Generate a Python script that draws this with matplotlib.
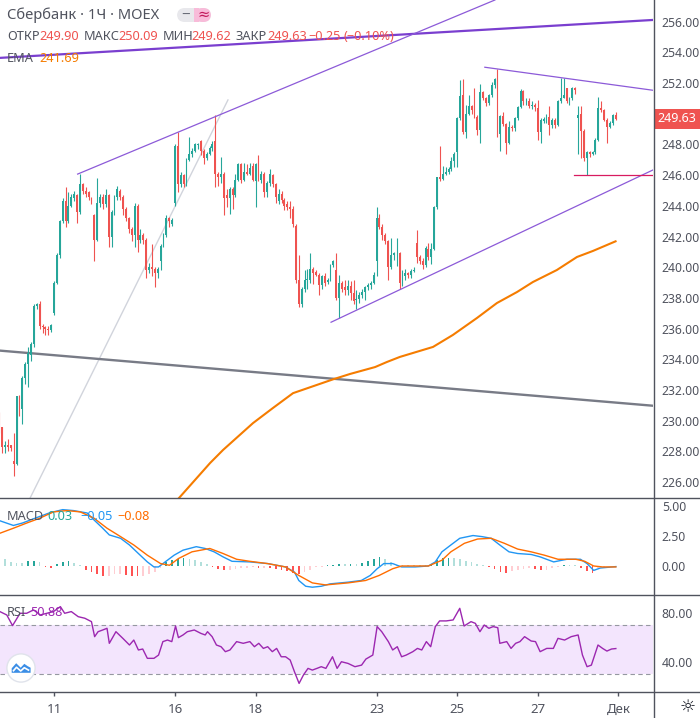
import numpy as np
import matplotlib
matplotlib.use("Agg")
import matplotlib.pyplot as plt
from matplotlib.patches import Rectangle, FancyBboxPatch, Circle, Polygon
from matplotlib.lines import Line2D

plt.rcParams['font.family'] = ['Noto Sans', 'DejaVu Sans']

W, H = 700, 718

# hourly candles: tail of Nov 9, then Nov 10 .. Nov 30 (14 per day)
opens = [230.4, 229.6, 228.3, 228.4, 228.4,
         227.4, 227.2, 231.6, 230.8, 232.8, 233.7, 234.3, 235.0, 237.5, 237.6, 236.2, 236.1, 236.0, 235.9,
         237.0, 239.0, 240.8, 243.0, 244.3, 243.0, 244.0, 244.5, 244.7, 243.6, 245.4, 245.0, 244.9, 244.5,
         243.4, 241.8, 244.2, 244.6, 244.1, 244.7, 242.0, 243.6, 244.6, 245.0, 244.6, 243.8, 243.2, 242.5,
         242.1, 244.0, 241.8, 242.1, 241.8, 239.8, 240.0, 239.9, 239.6, 240.4, 241.4, 242.1, 243.2, 242.8,
         244.2, 247.9, 245.4, 246.0, 245.4, 247.0, 247.35, 247.6, 247.95, 248.2, 247.6, 247.1, 247.4, 247.75,
         248.2, 246.1, 245.9, 246.1, 244.7, 244.5, 245.1, 244.7, 245.7, 246.7, 245.7, 246.2, 246.1, 246.6,
         245.6, 246.7, 245.7, 246.1, 244.9, 245.5, 246.0, 245.4, 244.3, 244.8, 244.4, 244.1, 243.9, 243.8,
         242.7, 239.2, 237.6, 238.6, 239.2, 239.2, 239.9, 239.7, 239.5, 238.85, 239.45, 239.05, 239.2, 240.15,
         239.85, 238.0, 239.0, 238.7, 238.5, 238.8, 238.3, 237.85, 237.95, 238.2, 238.4, 238.7, 238.85, 239.0,
         240.4, 243.2, 242.6, 242.1, 241.7, 240.0, 240.8, 240.9, 240.9, 238.95, 239.4, 239.6, 239.5, 239.75,
         241.55, 240.7, 240.4, 240.15, 241.2, 240.7, 241.2, 243.95, 245.9, 245.75, 246.1, 246.2, 246.4, 246.9,
         247.5, 249.7, 251.2, 248.8, 250.0, 250.5, 250.3, 249.8, 248.95, 251.4, 251.0, 250.7, 251.2, 251.85,
         252.1, 248.7, 249.85, 249.35, 248.1, 249.15, 249.05, 249.7, 250.45, 251.5, 250.8, 250.85, 250.5, 250.6,
         250.35, 248.8, 249.55, 249.6, 249.8, 249.27, 249.6, 249.27, 250.8, 251.05, 251.65, 250.8, 251.0, 251.7,
         249.75, 250.0, 248.9, 247.1, 247.5, 247.4, 247.5, 248.3, 250.35, 250.24, 249.6, 249.16, 249.4, 249.9]
highs = [230.6, 229.6, 228.7, 228.8, 228.4,
         229.2, 231.6, 231.7, 232.9, 233.8, 234.8, 235.1, 237.6, 237.7, 237.8, 236.3, 236.2, 236.2, 236.3,
         239.1, 240.9, 243.1, 244.5, 245.2, 244.9, 244.8, 245.0, 244.8, 246.1, 245.5, 245.2, 245.0, 244.6,
         243.5, 245.8, 244.8, 244.8, 245.1, 244.8, 243.7, 244.7, 245.3, 245.1, 244.7, 243.9, 243.3, 242.6,
         244.2, 244.1, 242.5, 242.2, 241.9, 240.3, 241.5, 240.0, 240.0, 241.5, 242.2, 243.4, 243.3, 243.2,
         248.0, 248.8, 246.2, 246.1, 247.1, 248.5, 247.8, 248.1, 248.1, 248.3, 247.7, 247.5, 247.9, 248.2,
         249.95, 246.2, 247.2, 246.2, 245.1, 245.2, 245.2, 246.1, 246.8, 246.8, 246.8, 246.7, 246.8, 246.8,
         246.8, 247.3, 246.3, 246.2, 245.6, 246.4, 246.1, 245.5, 245.1, 245.0, 244.5, 244.3, 244.3, 244.0,
         242.8, 240.8, 238.7, 239.8, 239.9, 240.9, 240.0, 239.8, 239.6, 239.5, 239.6, 239.3, 240.2, 240.5,
         240.9, 239.5, 239.1, 239.2, 239.2, 239.1, 239.2, 238.5, 238.4, 238.6, 238.8, 239.0, 239.1, 239.7,
         243.95, 243.5, 242.8, 242.2, 241.8, 241.9, 241.0, 241.9, 241.0, 239.8, 239.9, 239.7, 239.9, 240.0,
         242.45, 240.8, 240.6, 241.4, 241.6, 241.6, 244.0, 245.9, 247.9, 246.6, 246.5, 246.5, 247.2, 247.5,
         249.8, 252.2, 252.26, 250.6, 251.2, 250.6, 251.66, 249.9, 251.94, 251.5, 251.1, 251.3, 252.1, 252.3,
         252.9, 249.9, 250.1, 249.4, 249.5, 249.3, 249.8, 250.5, 251.6, 251.55, 251.0, 251.0, 250.8, 250.7,
         250.9, 249.7, 249.8, 250.0, 250.5, 249.7, 249.7, 250.9, 252.3, 252.3, 251.7, 251.1, 251.75, 251.75,
         250.5, 250.5, 249.0, 247.6, 247.6, 247.6, 248.4, 251.1, 250.8, 250.3, 249.7, 249.5, 250.0, 250.09]
lows = [229.2, 227.9, 227.9, 228.0, 228.0,
        226.4, 227.1, 230.3, 229.8, 232.4, 232.2, 233.9, 234.8, 237.3, 236.0, 235.7, 235.6, 235.6, 235.8,
        236.9, 238.9, 240.6, 242.9, 242.6, 242.9, 243.9, 244.3, 242.9, 243.5, 244.8, 244.6, 244.4, 244.1,
        240.4, 241.7, 243.9, 243.8, 243.9, 241.3, 241.3, 243.4, 244.4, 244.4, 243.4, 243.0, 242.2, 241.7,
        241.3, 241.0, 241.6, 241.5, 239.3, 239.6, 239.4, 238.7, 239.3, 239.8, 241.3, 242.0, 242.6, 242.7,
        244.0, 244.9, 245.2, 245.2, 245.3, 246.9, 247.2, 247.5, 247.7, 247.3, 246.7, 247.0, 247.3, 247.6,
        245.2, 245.3, 245.5, 243.4, 243.9, 243.5, 243.8, 244.6, 245.6, 245.5, 245.6, 246.0, 246.0, 245.6,
        243.9, 245.6, 245.5, 244.6, 244.6, 245.3, 245.2, 244.2, 244.1, 244.2, 243.7, 243.7, 243.2, 242.6,
        239.0, 237.4, 237.4, 238.4, 238.6, 239.0, 238.9, 239.4, 238.2, 238.6, 238.8, 238.9, 239.1, 240.0,
        237.9, 236.7, 238.4, 238.2, 238.2, 237.9, 237.6, 237.3, 237.7, 238.0, 237.9, 238.5, 238.6, 238.9,
        239.4, 242.5, 241.8, 241.5, 239.2, 239.9, 240.5, 240.1, 238.6, 238.8, 239.2, 239.3, 239.3, 239.7,
        240.3, 240.2, 239.9, 240.0, 240.5, 240.2, 241.1, 243.8, 245.6, 245.7, 246.0, 246.1, 246.3, 246.5,
        246.55, 249.6, 248.7, 248.4, 249.9, 250.0, 249.7, 248.6, 248.07, 250.9, 250.5, 250.6, 251.1, 251.7,
        248.5, 247.6, 249.2, 247.4, 248.0, 248.9, 248.9, 249.6, 250.4, 250.6, 250.6, 250.4, 250.3, 250.2,
        248.3, 248.1, 249.4, 249.4, 248.6, 249.1, 249.1, 249.2, 250.7, 251.0, 250.7, 250.6, 250.9, 251.3,
        247.4, 247.1, 246.9, 246.0, 247.2, 247.3, 247.4, 248.2, 250.1, 249.5, 248.07, 249.1, 249.3, 249.62]
closes = [229.6, 228.3, 228.4, 228.3, 228.2,
          227.2, 231.6, 230.8, 232.8, 233.7, 234.4, 235.0, 237.5, 237.6, 236.2, 236.1, 236.0, 235.9, 236.25,
          239.0, 240.8, 243.0, 244.3, 243.0, 244.0, 244.6, 244.8, 243.6, 245.4, 245.0, 244.8, 244.6, 244.3,
          241.8, 244.2, 244.6, 244.1, 244.7, 242.0, 243.6, 244.6, 245.1, 244.6, 243.8, 243.2, 242.5, 242.1,
          244.0, 241.8, 242.1, 241.8, 239.8, 240.0, 239.9, 239.6, 239.9, 241.4, 242.1, 243.2, 243.0, 243.1,
          247.9, 245.4, 246.0, 245.4, 247.0, 247.35, 247.6, 248.0, 248.0, 247.6, 247.1, 247.4, 247.75, 248.0,
          246.1, 245.9, 246.1, 244.5, 244.5, 245.1, 244.7, 245.7, 246.7, 245.7, 246.2, 246.1, 246.45, 245.7,
          246.7, 245.7, 246.1, 244.9, 245.5, 246.1, 245.4, 244.6, 244.8, 244.4, 244.0, 243.9, 243.8, 242.8,
          239.2, 237.6, 238.6, 239.2, 239.25, 239.9, 239.6, 239.5, 238.85, 239.4, 239.0, 239.2, 240.15, 240.4,
          238.0, 239.0, 238.6, 238.5, 238.8, 238.3, 237.8, 237.95, 238.2, 238.4, 238.7, 238.85, 239.0, 239.5,
          243.2, 242.6, 242.1, 241.7, 240.0, 240.8, 240.9, 240.95, 238.95, 239.4, 239.6, 239.5, 239.75, 239.85,
          240.7, 240.4, 240.15, 241.25, 240.7, 241.2, 243.95, 245.85, 245.75, 246.1, 246.2, 246.4, 246.9, 247.4,
          249.7, 251.15, 248.8, 250.0, 250.5, 250.25, 249.8, 248.95, 251.4, 251.0, 250.7, 251.2, 251.85, 252.25,
          248.7, 249.85, 249.35, 248.1, 249.15, 249.05, 249.7, 250.45, 251.5, 250.8, 250.85, 250.5, 250.6, 250.45,
          248.8, 249.6, 249.65, 249.8, 249.27, 249.6, 249.27, 250.8, 251.05, 251.2, 250.8, 251.0, 251.7, 251.55,
          249.9, 248.9, 247.1, 247.5, 247.4, 247.5, 248.3, 250.35, 250.24, 249.6, 249.16, 249.4, 249.9, 249.63]

tick_idx = [19, 61, 89, 131, 159, 187, 215]
tick_lbl = ['11', '16', '18', '23', '25', '27', 'Дек']
price_ticks = [226, 228, 230, 232, 234, 236, 238, 240, 242, 244, 246, 248, 252, 254, 256]

ema_idx = [55, 62.4, 73.2, 77.7, 88.1, 95.0, 102.0, 115.9, 121.8, 130.5, 134.6, 139.1,
           150.6, 157.5, 165.9, 172.8, 179.8, 185.3, 193.6, 200.6, 206.1, 214]
ema_val = [223.5, 224.97, 227.25, 228.1, 229.85, 230.83, 231.8, 232.7, 233.05, 233.5, 233.83, 234.16,
           234.81, 235.59, 236.7, 237.67, 238.39, 239.04, 239.82, 240.67, 241.06, 241.69]

# drawn trend lines: (start index, end index), (start price, end price)
line_thick_purple = ([0.24, 227.0], [253.64, 256.11])
line_channel_top = ([27.2, 172.1], [246.07, 257.41])
line_channel_bot = ([115.2, 227.0], [236.42, 246.34])
line_grey_thin = ([10.7, 79.4], [224.97, 250.9])
line_grey_thick = ([0.24, 227.0], [234.57, 230.98])
line_resist = ([168.6, 227.0], [253.03, 251.53])
line_support = ([199.6, 227.0], [246.0, 246.0])

macd_idx = [0.2, 4.9, 8, 12.6, 17.3, 22, 25.8, 30.5, 32.8, 35.9, 38.2, 42.1, 45.2, 48.3, 51.4, 53.7,
            55.3, 57.6, 60.7, 63.8, 68.4, 71.5, 74.6, 77.7, 80.8, 87, 93.2, 99.4, 102.5, 104, 106.4,
            108.7, 111.8, 114.9, 121.1, 125.7, 128.8, 131.2, 133.5, 136.6, 139.7, 144.4, 149, 151.4,
            153.7, 156.8, 159.9, 164.5, 167.6, 170.8, 173.8, 177, 180, 184.7, 187.8, 192.5, 197.1,
            201.8, 204.1, 206.4, 208.7, 214.1]
macd_val = [3.77, 3.38, 3.58, 4.0, 4.42, 4.70, 4.62, 4.42, 3.86, 3.15, 2.59, 2.31, 1.75, 1.04, 0.34, -0.08,
            -0.08, 0.34, 0.90, 1.32, 1.61, 1.46, 1.18, 0.76, 0.39, 0.34, 0.20, -0.08, -0.51, -1.21, -1.69,
            -1.77, -1.69, -1.49, -1.35, -1.21, -0.79, -0.23, 0.20, 0.20, -0.08, -0.08, 0.0, 0.34,
            1.18, 1.75, 2.31, 2.54, 2.45, 2.31, 1.75, 1.18, 1.04, 0.96, 0.76, 0.34, 0.56,
            0.56, 0.20, -0.37, -0.17, -0.05]
sig_idx = [0.2, 4.9, 9.5, 14.2, 18.8, 23.5, 28.1, 32.8, 37.4, 42.1, 46.7, 51.4, 56, 59.1, 62.2, 66.9,
           73.1, 77.7, 82.4, 87, 93.2, 99.4, 104, 108.7, 113.3, 121.1, 127.2, 131.9, 136.6, 139.7, 149,
           153.7, 156.8, 161.5, 166.1, 170.8, 175.4, 180, 184.7, 189.3, 194, 200.2, 203.3, 206.4, 209.5,
           214.1]
sig_val = [2.73, 3.15, 3.58, 4.0, 4.51, 4.62, 4.51, 4.0, 3.15, 2.45, 1.75, 0.90, 0.20, 0.06, 0.62, 1.18,
           1.46, 1.04, 0.56, 0.39, 0.20, -0.08, -0.79, -1.41, -1.58, -1.41, -1.21, -0.79, -0.23, 0.0, 0.0,
           0.48, 1.18, 1.89, 2.25, 2.31, 1.89, 1.41, 1.18, 0.90, 0.56, 0.56, 0.39, 0.0, -0.08,
           -0.08]
# histogram read every second candle (0, 2, 4 ... 214)
hist_val = [0.75, 0.6, 0.35, 0.25, 0.25, 0.4, 0.45, 0.35, -0.1, -0.15,
            0.2, 0.35, 0.4, 0.25, 0.1, -0.3, -0.5, -0.7, -0.8, -0.8,
            -0.7, -0.7, -0.75, -0.8, -0.85, -0.85, -0.7, -0.5, -0.2, 0.3,
            0.5, 0.6, 0.65, 0.6, 0.5, 0.35, 0.15, -0.1, -0.25, -0.35,
            -0.3, -0.25, -0.15, -0.15, -0.1, -0.15, -0.15, -0.2, -0.25, -0.3,
            -0.4, -0.55, -0.65, -0.5, -0.35, -0.1, -0.05, 0.05, 0.1, 0.15,
            0.15, 0.2, 0.15, 0.25, 0.4, 0.6, 0.75, 0.55, 0.3, 0.1,
            0.05, 0.05, 0.05, 0.05, 0.05, 0.1, 0.5, 0.65, 0.7, 0.7,
            0.55, 0.45, 0.3, 0.15, 0.05, -0.05, -0.25, -0.5, -0.6, -0.45,
            -0.35, -0.25, -0.2, -0.25, -0.3, -0.3, -0.2, -0.1, 0.05, 0.05,
            0.05, -0.2, -0.4, -0.55, -0.2, -0.05, 0.0, 0.03]

rsi_idx = [0.2, 2.6, 4.6, 7.2, 9.5, 11.9, 14.2, 16.5, 18.8, 21.2, 22.7, 25.0, 27.4, 29.7, 32.0, 33.1,
           34.3, 35.9, 37.4, 38.2, 40.5, 42.9, 45.2, 46.7, 48.3, 49.8, 51.4, 53.7, 55.3, 56.8, 58.4,
           59.9, 61.2, 62.2, 63.8, 65.3, 67.7, 70.0, 71.5, 72.3, 73.9, 75.4, 77.0, 78.5, 80.1, 82.4,
           84.7, 87.0, 88.6, 90.1, 91.7, 93.2, 94.8, 96.3, 97.9, 99.4, 101.0, 102.5, 104.1, 105.6,
           107.2, 108.7, 110.3, 111.8, 113.4, 115.7, 117.3, 118.8, 121.1, 123.5, 125.8, 127.3, 129.7,
           131.2, 132.8, 135.1, 136.6, 138.2, 139.7, 141.3, 143.6, 145.2, 146.7, 148.3, 149.8, 151.4,
           152.9, 155.2, 157.6, 159.9, 161.4, 163.8, 165.3, 166.9, 168.4, 170.0, 171.5, 173.1, 173.8,
           176.2, 177.7, 179.3, 180.8, 182.4, 184.7, 186.2, 187.8, 190.1, 192.4, 194.0, 196.3, 198.6,
           201.0, 202.5, 204.1, 205.6, 207.9, 209.5, 211.0, 212.6, 214.1]
rsi_val = [81.4, 78.6, 69.8, 80.0, 80.0, 82.8, 78.6, 80.0, 81.4, 85.5, 80.0, 81.4, 77.2, 75.9, 73.1, 60.7,
           64.8, 66.2, 67.6, 55.2, 64.8, 59.3, 53.8, 57.9, 49.7, 50.5, 42.8, 42.8, 45.5, 56.6, 57.9,
           56.6, 69.5, 59.9, 62.1, 64.8, 66.2, 63.4, 62.1, 64.8, 60.7, 53.8, 52.4, 48.3, 49.7, 56.6,
           55.2, 56.6, 52.4, 55.2, 51.0, 52.4, 48.3, 51.0, 44.1, 44.1, 41.4, 31.7, 22.1, 29.0,
           34.5, 33.1, 34.5, 35.9, 34.5, 44.1, 34.5, 40.0, 38.6, 35.9, 37.2, 42.2, 45.5,
           69.0, 64.8, 56.6, 49.7, 52.4, 44.1, 45.5, 48.3, 51.0, 49.7, 56.6, 52.4, 69.0,
           73.7, 73.7, 74.5, 84.1, 69.5, 73.1, 71.7, 64.8, 70.3, 67.6, 69.0, 68.1, 55.2,
           56.6, 51.0, 55.2, 56.6, 60.7, 57.1, 56.6, 48.3, 51.0, 51.0, 59.3, 57.9, 60.7,
           62.1, 45.5, 35.9, 37.2, 53.8, 51.0, 48.8, 50.5, 50.88]

UP, DOWN = '#26a69a', '#ef5350'
TXT = '#50535e'
XLIM = (0.24, 227.0)


def fx(x):
    return x / W


def fy(y):
    return 1 - y / H


fig = plt.figure(figsize=(W / 100, H / 100), dpi=100)
fig.patch.set_facecolor('white')

ax = fig.add_axes([0, fy(498), fx(653), 498 / H])
ax_m = fig.add_axes([0, fy(595), fx(653), 97 / H])
ax_r = fig.add_axes([0, fy(692), fx(653), 97 / H])

for a in (ax, ax_m, ax_r):
    a.set_xlim(*XLIM)
    for s in a.spines.values():
        s.set_visible(False)
    a.yaxis.tick_right()
    a.tick_params(axis='y', length=0, pad=6.3, labelsize=8.8, labelcolor=TXT)
    a.set_xticks([])

# ---- price panel
o = np.array(opens)
c = np.array(closes)
x = np.arange(len(c))
col = np.where(c >= o, UP, DOWN)
ax.vlines(x, lows, highs, colors=col, lw=0.8, zorder=3)
body = np.maximum(np.abs(c - o), 0.06)
ax.bar(x, body, bottom=np.minimum(o, c), width=0.66, color=col, lw=0, zorder=4)

ax.plot(*line_grey_thin, color='#d1d4dc', lw=1.0, zorder=2)
ax.plot(*line_grey_thick, color='#787b86', lw=1.7, zorder=2)
ax.plot(*line_thick_purple, color='#7a3fcf', lw=1.6, zorder=5)
ax.plot(*line_channel_top, color='#8c5ad8', lw=0.9, zorder=5)
ax.plot(*line_channel_bot, color='#8c5ad8', lw=0.9, zorder=5)
ax.plot(*line_resist, color='#8c5ad8', lw=0.9, zorder=5)
ax.plot(*line_support, color='#d81b60', lw=0.9, zorder=5)
ax.plot(ema_idx, ema_val, color='#f57c00', lw=1.5, zorder=5)

ax.set_ylim(224.97, 257.41)
ax.set_yticks(price_ticks)
ax.set_yticklabels([f'{v:.2f}' for v in price_ticks])

# ---- MACD panel
ax_m.plot(macd_idx, macd_val, color='#2196f3', lw=1.0, zorder=3)
ax_m.plot(sig_idx, sig_val, color='#ff6d00', lw=1.0, zorder=3)
hx = np.arange(0, 215, 2)
hcol = []
prev = 0.0
for v in hist_val:
    if v >= 0:
        hcol.append('#26a69a' if v > prev else '#b2dfdb')
    else:
        hcol.append('#ff5252' if v < prev else '#ffcdd2')
    prev = v
ax_m.bar(hx, hist_val, width=0.6, color=hcol, lw=0, zorder=2)
ax_m.set_ylim(-2.42, 5.67)
ax_m.set_yticks([0, 2.5, 5])
ax_m.set_yticklabels(['0.00', '2.50', '5.00'])

# ---- RSI panel
ax_r.axhspan(30, 70, color='#f3e5fd', lw=0, zorder=0)
for lvl in (30, 70):
    ax_r.axhline(lvl, color='#9598a1', lw=0.8, dashes=(4, 3), zorder=1)
ax_r.plot(rsi_idx, rsi_val, color='#9c27b0', lw=1.0, zorder=3)
ax_r.set_ylim(15.0, 95.1)
ax_r.set_yticks([40, 80])
ax_r.set_yticklabels(['40.00', '80.00'])
ax_r.set_xticks(tick_idx)
ax_r.set_xticklabels(tick_lbl)
ax_r.tick_params(axis='x', length=3, width=1, color='#50535e', pad=5, labelsize=9.5, labelcolor=TXT)

# ---- frame lines
for yy in (498, 595, 692):
    fig.add_artist(Line2D([0, 1], [fy(yy), fy(yy)], color='#50535e', lw=1.0))
fig.add_artist(Line2D([fx(653.5), fx(653.5)], [0, 1], color='#50535e', lw=1.0))

# last price label
fig.add_artist(Rectangle((fx(653.5), fy(129)), 46.5 / W, 20 / H, color='#ef5350', lw=0))
fig.text(fx(677), fy(119), '249.63', color='white', fontsize=9, fontweight='bold',
         ha='center', va='center')

# ---- legend texts
fig.text(fx(7), fy(15), 'Сбербанк · 1Ч · MOEX', color=TXT, fontsize=10.6, va='center')
fig.add_artist(FancyBboxPatch((fx(177), fy(22)), 34 / W, 14 / H,
                              boxstyle='round,pad=0,rounding_size=0.011', fc='#e8e8ec', ec='none'))
fig.add_artist(FancyBboxPatch((fx(195), fy(22)), 16 / W, 14 / H,
                              boxstyle='round,pad=0,rounding_size=0.011', fc='#f8bbd9', ec='none'))
fig.add_artist(Rectangle((fx(194), fy(22)), 5 / W, 14 / H, fc='#f8bbd9', ec='none'))
fig.text(fx(186), fy(15), '−', color='#6a6d78', fontsize=11, fontweight='bold', ha='center', va='center')
fig.text(fx(203.5), fy(15), '≈', color='#c2185b', fontsize=10.5, ha='center', va='center')

ohlc_parts = [(7, 'ОТКР', TXT), (39, '249.90', DOWN), (84, 'МАКС', TXT), (118, '250.09', DOWN),
              (163, 'МИН', TXT), (191, '249.62', DOWN), (236, 'ЗАКР', TXT), (267, '249.63', DOWN),
              (308, '−0.25', DOWN), (344, '(−0.10%)', DOWN)]
for px_, s, cc in ohlc_parts:
    fig.text(fx(px_), fy(37), s, color=cc, fontsize=9.2, va='center')
fig.text(fx(7), fy(58), 'EMA', color=TXT, fontsize=9.2, va='center')
fig.text(fx(39), fy(58), '241.69', color='#f57c00', fontsize=9.2, va='center')

for px_, s, cc in [(7, 'MACD', TXT), (47, '0.03', '#26a69a'), (80, '−0.05', '#2196f3'),
                   (117, '−0.08', '#ff6d00')]:
    fig.text(fx(px_), fy(516), s, color=cc, fontsize=9.2, va='center')
fig.text(fx(7), fy(613), 'RSI', color=TXT, fontsize=9.2, va='center')
fig.text(fx(30), fy(613), '50.88', color='#9c27b0', fontsize=9.2, va='center')

# logo
lg = fig.add_axes([fx(6), fy(683), 30 / W, 30 / H])
lg.set_xlim(-1, 1)
lg.set_ylim(-1, 1)
lg.axis('off')
lg.add_patch(Circle((0, 0), 0.94, fc='white', ec='#e0e3eb', lw=1.0))
lg.add_patch(Polygon([(-0.62, -0.32), (-0.62, -0.02), (-0.32, 0.32), (-0.02, 0.02), (0.22, 0.28),
                      (0.45, 0.12), (0.64, 0.02), (0.64, -0.32)], closed=True, fc='#3b8ee6', ec='none'))
lg.plot([-0.5, -0.3, -0.02, 0.22, 0.5], [-0.18, 0.05, -0.2, 0.02, -0.14], color='white', lw=1.2)

# settings icon
fig.text(fx(688), fy(707), '☼', family='DejaVu Sans', fontsize=13, color='#131722',
         ha='center', va='center')

fig.savefig('out.png', dpi=100)
